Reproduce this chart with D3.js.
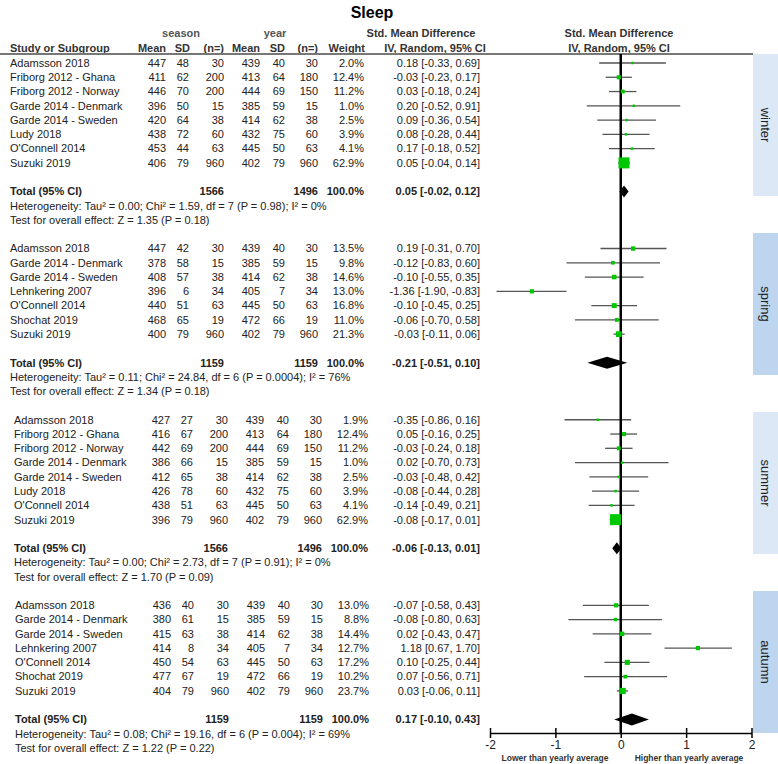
<!DOCTYPE html>
<html>
<head>
<meta charset="utf-8">
<script src="https://cdn.jsdelivr.net/npm/d3@7"></script>
<style>
  body { margin: 0; background: #fff; }
  svg { font-family: "Liberation Sans", Arial, sans-serif; }
</style>
</head>
<body>
<svg width="778" height="764"></svg>
<script>
// seasons shown in the side boxes
const seasons = ["winter", "spring", "summer", "autumn"];

// study rows: name, season mean, sd, n, year mean, sd, n, weight, smd, lower, upper
const winterRows = [
    ["Adamsson 2018", 447, 48, 30, 439, 40, 30, 2.0, 0.18, -0.33, 0.69],
    ["Friborg 2012 - Ghana", 411, 62, 200, 413, 64, 180, 12.4, -0.03, -0.23, 0.17],
    ["Friborg 2012 - Norway", 446, 70, 200, 444, 69, 150, 11.2, 0.03, -0.18, 0.24],
    ["Garde 2014 - Denmark", 396, 50, 15, 385, 59, 15, 1.0, 0.20, -0.52, 0.91],
    ["Garde 2014 - Sweden", 420, 64, 38, 414, 62, 38, 2.5, 0.09, -0.36, 0.54],
    ["Ludy 2018", 438, 72, 60, 432, 75, 60, 3.9, 0.08, -0.28, 0.44],
    ["O'Connell 2014", 453, 44, 63, 445, 50, 63, 4.1, 0.17, -0.18, 0.52],
    ["Suzuki 2019", 406, 79, 960, 402, 79, 960, 62.9, 0.05, -0.04, 0.14]
];
const springRows = [
    ["Adamsson 2018", 447, 42, 30, 439, 40, 30, 13.5, 0.19, -0.31, 0.70],
    ["Garde 2014 - Denmark", 378, 58, 15, 385, 59, 15, 9.8, -0.12, -0.83, 0.60],
    ["Garde 2014 - Sweden", 408, 57, 38, 414, 62, 38, 14.6, -0.10, -0.55, 0.35],
    ["Lehnkering 2007", 396, 6, 34, 405, 7, 34, 13.0, -1.36, -1.90, -0.83],
    ["O'Connell 2014", 440, 51, 63, 445, 50, 63, 16.8, -0.10, -0.45, 0.25],
    ["Shochat 2019", 468, 65, 19, 472, 66, 19, 11.0, -0.06, -0.70, 0.58],
    ["Suzuki 2019", 400, 79, 960, 402, 79, 960, 21.3, -0.03, -0.11, 0.06]
];
const summerRows = [
    ["Adamsson 2018", 427, 27, 30, 439, 40, 30, 1.9, -0.35, -0.86, 0.16],
    ["Friborg 2012 - Ghana", 416, 67, 200, 413, 64, 180, 12.4, 0.05, -0.16, 0.25],
    ["Friborg 2012 - Norway", 442, 69, 200, 444, 69, 150, 11.2, -0.03, -0.24, 0.18],
    ["Garde 2014 - Denmark", 386, 66, 15, 385, 59, 15, 1.0, 0.02, -0.70, 0.73],
    ["Garde 2014 - Sweden", 412, 65, 38, 414, 62, 38, 2.5, -0.03, -0.48, 0.42],
    ["Ludy 2018", 426, 78, 60, 432, 75, 60, 3.9, -0.08, -0.44, 0.28],
    ["O'Connell 2014", 438, 51, 63, 445, 50, 63, 4.1, -0.14, -0.49, 0.21],
    ["Suzuki 2019", 396, 79, 960, 402, 79, 960, 62.9, -0.08, -0.17, 0.01]
];
const autumnRows = [
    ["Adamsson 2018", 436, 40, 30, 439, 40, 30, 13.0, -0.07, -0.58, 0.43],
    ["Garde 2014 - Denmark", 380, 61, 15, 385, 59, 15, 8.8, -0.08, -0.80, 0.63],
    ["Garde 2014 - Sweden", 415, 63, 38, 414, 62, 38, 14.4, 0.02, -0.43, 0.47],
    ["Lehnkering 2007", 414, 8, 34, 405, 7, 34, 12.7, 1.18, 0.67, 1.70],
    ["O'Connell 2014", 450, 54, 63, 445, 50, 63, 17.2, 0.10, -0.25, 0.44],
    ["Shochat 2019", 477, 67, 19, 472, 66, 19, 10.2, 0.07, -0.56, 0.71],
    ["Suzuki 2019", 404, 79, 960, 402, 79, 960, 23.7, 0.03, -0.06, 0.11]
];
const studyRows = [winterRows, springRows, summerRows, autumnRows];

// subgroup totals: season n, year n, smd, lower, upper
const totals = [
    [1566, 1496, 0.05, -0.02, 0.12],
    [1159, 1159, -0.21, -0.51, 0.10],
    [1566, 1496, -0.06, -0.13, 0.01],
    [1159, 1159, 0.17, -0.10, 0.43]
];
const heterogeneity = [
    "Heterogeneity: Tau² = 0.00; Chi² = 1.59, df = 7 (P = 0.98); I² = 0%",
    "Heterogeneity: Tau² = 0.11; Chi² = 24.84, df = 6 (P = 0.0004); I² = 76%",
    "Heterogeneity: Tau² = 0.00; Chi² = 2.73, df = 7 (P = 0.91); I² = 0%",
    "Heterogeneity: Tau² = 0.08; Chi² = 19.16, df = 6 (P = 0.004); I² = 69%"
];
const overallTests = [
    "Test for overall effect: Z = 1.35 (P = 0.18)",
    "Test for overall effect: Z = 1.34 (P = 0.18)",
    "Test for overall effect: Z = 1.70 (P = 0.09)",
    "Test for overall effect: Z = 1.22 (P = 0.22)"
];
const axisTicks = [-2, -1, 0, 1, 2];

const svg = d3.select("svg");
// RevMan prints a plain hyphen for negatives
const loc = d3.formatLocale({decimal: ".", thousands: ",", grouping: [3], currency: ["", ""], minus: "-"});
const fmt2 = loc.format(".2f");
const fmtW = loc.format(".1f");
const ciText = (m, l, u) => `${fmt2(m)} [${fmt2(l)}, ${fmt2(u)}]`;

// build the list of lines (row index -> what goes there)
let lines = [];
let idx = 0;
seasons.forEach(function(s, g) {
    studyRows[g].forEach(function(r) {
        lines.push({type: "study", g: g, row: idx++, d: r});
    });
    idx++; // blank line
    lines.push({type: "total", g: g, row: idx++, d: totals[g]});
    lines.push({type: "text", g: g, row: idx++, d: heterogeneity[g]});
    lines.push({type: "text", g: g, row: idx++, d: overallTests[g]});
    idx++;
});

const y = d3.scaleLinear().domain([0, 48]).range([63, 748]);
const x = d3.scaleLinear().domain([-2, 2]).range([490, 751.5]);
const boxSize = d3.scalePow().exponent(0.6).domain([0, 62.9]).range([0, 11]);
const band = d3.scaleBand().domain(seasons).range([54, 733]).paddingInner(0.207);

// indent of the text table per season
const indent = [0, 0, 4, 5];

// side boxes
const boxFill = ["#dce8f5", "#bdd5ee", "#dce8f5", "#bdd5ee"];
svg.append("g").selectAll("rect")
    .data(seasons)
    .join("rect")
    .attr("x", 753).attr("width", 25)
    .attr("y", d => band(d))
    .attr("height", band.bandwidth())
    .attr("fill", (d, i) => boxFill[i]);

svg.append("g").selectAll("text")
    .data(seasons)
    .join("text")
    .attr("transform", d => `translate(761,${band(d) + band.bandwidth() / 2}) rotate(90)`)
    .attr("text-anchor", "middle")
    .attr("font-size", 13)
    .attr("fill", "#222")
    .text(d => d);

// title and headers
svg.append("text").attr("x", 372).attr("y", 18)
    .attr("text-anchor", "middle").attr("font-size", 16).attr("font-weight", "bold")
    .text("Sleep");

const head = svg.append("g").attr("font-weight", "bold").attr("font-size", 11).attr("fill", "#333");
head.append("text").attr("x", 181).attr("y", 37).attr("text-anchor", "middle").attr("fill", "#555").text("season");
head.append("text").attr("x", 275).attr("y", 37).attr("text-anchor", "middle").attr("fill", "#555").text("year");
head.append("text").attr("x", 421).attr("y", 37).attr("text-anchor", "middle").text("Std. Mean Difference");
head.append("text").attr("x", 619).attr("y", 37).attr("text-anchor", "middle").text("Std. Mean Difference");
head.append("text").attr("x", 10).attr("y", 52).text("Study or Subgroup");
const colHeads = [["Mean", 166], ["SD", 190], ["(n=)", 224], ["Mean", 260], ["SD", 285], ["(n=)", 318], ["Weight", 365]];
head.selectAll(".colh").data(colHeads).join("text")
    .attr("x", d => d[1]).attr("y", 52).attr("text-anchor", "end").text(d => d[0]);
head.append("text").attr("x", 435).attr("y", 52).attr("text-anchor", "middle").text("IV, Random, 95% CI");
head.append("text").attr("x", 619).attr("y", 52).attr("text-anchor", "middle").text("IV, Random, 95% CI");

svg.append("line").attr("x1", 0).attr("x2", 753).attr("y1", 54).attr("y2", 54)
    .attr("stroke", "#777").attr("stroke-width", 2);

// table text
const table = svg.append("g").attr("font-size", 11).attr("fill", "#222");
const numCols = [166, 189, 224, 260, 285, 318];

lines.forEach(function(l) {
    const yy = y(l.row);
    const dx = indent[l.g];
    if (l.type === "study") {
        const r = l.d;
        table.append("text").attr("x", 10 + dx).attr("y", yy).attr("dy", "0.35em").text(r[0]);
        numCols.forEach(function(cx, k) {
            table.append("text").attr("x", cx + dx).attr("y", yy).attr("dy", "0.35em")
                .attr("text-anchor", "end").text(r[k + 1]);
        });
        table.append("text").attr("x", 364 + dx).attr("y", yy).attr("dy", "0.35em")
            .attr("text-anchor", "end").text(fmtW(r[7]) + "%");
        table.append("text").attr("x", 480).attr("y", yy).attr("dy", "0.35em")
            .attr("text-anchor", "end").text(ciText(r[8], r[9], r[10]));
    } else if (l.type === "total") {
        const t = l.d;
        const b = table.append("g").attr("font-weight", "bold").attr("font-size", 11);
        b.append("text").attr("x", 10 + dx).attr("y", yy).attr("dy", "0.35em").text("Total (95% CI)");
        b.append("text").attr("x", 224 + dx).attr("y", yy).attr("dy", "0.35em").attr("text-anchor", "end").text(t[0]);
        b.append("text").attr("x", 318 + dx).attr("y", yy).attr("dy", "0.35em").attr("text-anchor", "end").text(t[1]);
        b.append("text").attr("x", 364 + dx).attr("y", yy).attr("dy", "0.35em").attr("text-anchor", "end").text("100.0%");
        b.append("text").attr("x", 480).attr("y", yy).attr("dy", "0.35em").attr("text-anchor", "end").text(ciText(t[2], t[3], t[4]));
    } else {
        table.append("text").attr("x", 10 + dx).attr("y", yy).attr("dy", "0.35em").text(l.d);
    }
});

// forest plot marks
const plot = svg.append("g");
const studies = lines.filter(l => l.type === "study");
const sums = lines.filter(l => l.type === "total");

plot.selectAll(".ci").data(studies).join("line")
    .attr("x1", d => x(d.d[9])).attr("x2", d => x(d.d[10]))
    .attr("y1", d => y(d.row)).attr("y2", d => y(d.row))
    .attr("stroke", "#555").attr("stroke-width", 1.3);

plot.append("line")
    .attr("x1", x(0)).attr("x2", x(0)).attr("y1", 54).attr("y2", 733)
    .attr("stroke", "#000").attr("stroke-width", 2.5);

plot.selectAll(".sq").data(studies).join("rect")
    .attr("fill", "#00c800")
    .each(function(d) {
        const s = Math.max(2.5, boxSize(d.d[7]));
        d3.select(this).attr("x", x(d.d[8]) - s / 2).attr("y", y(d.row) - s / 2)
            .attr("width", s).attr("height", s);
    });

plot.selectAll(".dia").data(sums).join("path")
    .attr("fill", "#000")
    .attr("d", function(d) {
        const yy = y(d.row), h = 6;
        return `M${x(d.d[3])},${yy}L${x(d.d[2])},${yy - h}L${x(d.d[4])},${yy}L${x(d.d[2])},${yy + h}Z`;
    });

// axis
const axis = svg.append("g").attr("transform", "translate(0,733)")
    .call(d3.axisBottom(x).tickValues(axisTicks).tickFormat(loc.format("d")).tickSize(5).tickPadding(2).tickSizeOuter(0));
axis.select(".domain").attr("stroke", "#000").attr("stroke-width", 1.5);
axis.selectAll(".tick line").attr("y1", -5).attr("y2", 5).attr("stroke-width", 1.5);
axis.selectAll(".tick text").attr("font-size", 12).attr("font-family", "Liberation Sans, Arial, sans-serif").attr("fill", "#222");

svg.append("text").attr("x", 555).attr("y", 761).attr("text-anchor", "middle")
    .attr("font-size", 8.5).attr("font-weight", "bold").attr("fill", "#333").text("Lower than yearly average");
svg.append("text").attr("x", 689).attr("y", 761).attr("text-anchor", "middle")
    .attr("font-size", 8.5).attr("font-weight", "bold").attr("fill", "#333").text("Higher than yearly average");
</script>
</body>
</html>
